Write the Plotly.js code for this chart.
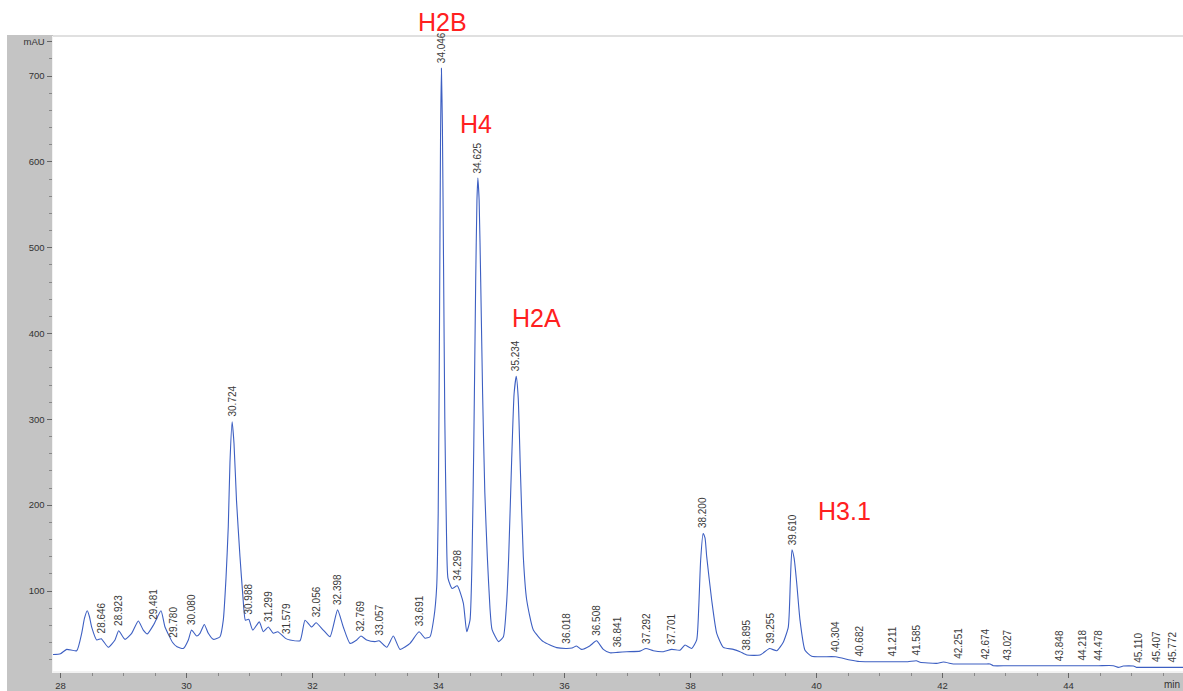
<!DOCTYPE html>
<html>
<head>
<meta charset="utf-8">
<script src="https://cdn.plot.ly/plotly-3.0.1.min.js"></script>
<style>
  html, body { margin: 0; padding: 0; background: #ffffff; }
  #chart { width: 1183px; height: 691px; }
</style>
</head>
<body>
<div id="chart"></div>
<script>
// Chromatogram trace: retention time (min) and absorbance (mAU)
const retentionTime = [
  27.88, 28.00, 28.098, 28.257, 28.337, 28.38, 28.425, 28.46, 28.495, 28.575,
  28.646, 28.759, 28.865, 28.923, 29.024, 29.130, 29.235, 29.314, 29.378, 29.481,
  29.595, 29.659, 29.780, 29.85, 29.949, 30.029, 30.080, 30.162, 30.214, 30.283,
  30.346, 30.425, 30.532, 30.584, 30.627, 30.663, 30.690, 30.724, 30.754, 30.794,
  30.849, 30.897, 30.935, 30.988, 31.051, 31.156, 31.219, 31.299, 31.378, 31.448,
  31.579, 31.643, 31.802, 31.881, 31.987, 32.056, 32.171, 32.278, 32.398, 32.489,
  32.595, 32.702, 32.769, 32.860, 32.992, 33.057, 33.178, 33.283, 33.389, 33.548,
  33.691, 33.786, 33.865, 33.929, 33.971, 33.995, 34.015, 34.032, 34.046, 34.062,
  34.08, 34.10, 34.125, 34.15, 34.215, 34.298, 34.394, 34.448, 34.500, 34.53,
  34.56, 34.59, 34.61, 34.625, 34.645, 34.67, 34.70, 34.735, 34.775, 34.817,
  34.85, 34.955, 35.03, 35.08, 35.114, 35.16, 35.20, 35.234, 35.265, 35.30,
  35.346, 35.40, 35.505, 35.664, 35.876, 36.018, 36.12, 36.19, 36.27, 36.40,
  36.508, 36.616, 36.722, 36.841, 36.987, 37.198, 37.292, 37.410, 37.568, 37.701,
  37.833, 37.913, 38.019, 38.098, 38.13, 38.16, 38.200, 38.23, 38.257, 38.336,
  38.416, 38.521, 38.679, 38.786, 38.895, 39.103, 39.255, 39.368, 39.47, 39.552,
  39.585, 39.610, 39.645, 39.686, 39.738, 39.817, 39.924, 40.304, 40.532, 40.682,
  41.211, 41.45, 41.585, 41.643, 41.908, 42.013, 42.171, 42.251, 42.674, 42.754,
  42.806, 43.027, 43.848, 44.218, 44.478, 44.711, 44.79, 44.87, 45.03, 45.08,
  45.110, 45.407, 45.772, 45.82
];
const absorbance = [
  26, 27, 32, 30.4, 51, 68, 77, 70, 58, 43,
  44.4, 34.4, 43, 53.7, 43.7, 50.7, 65, 54.5, 50, 61,
  77, 58, 40, 35, 33, 43, 54.5, 47.5, 50.7, 61,
  50.7, 43.7, 46.7, 66, 115, 175, 250, 297, 272, 205,
  140, 92, 66, 67, 54.5, 64, 52.5, 58, 50.7, 52.5,
  44.5, 43, 42, 66, 58, 63, 54.5, 46.7, 78, 58,
  39, 43, 47.5, 43, 41, 42, 34.4, 47.5, 32, 39,
  52.5, 45, 46.7, 70, 105, 190, 400, 625, 709, 640,
  480, 300, 175, 115, 103, 106, 86, 52.5, 66, 130,
  270, 460, 555, 581, 555, 460, 330, 215, 140, 80,
  55, 41, 46.7, 85, 140, 250, 330, 350, 325, 240,
  140, 89.5, 54.5, 41, 34, 33, 33.5, 36, 32, 36,
  42, 32, 28, 28.5, 29.3, 30, 33, 30.4, 29.3, 32,
  31, 37, 33, 43, 80, 135, 167, 162, 140, 89.5,
  50.7, 34.4, 32, 29.3, 25.4, 25.4, 33, 30.4, 40, 58,
  112, 148, 138, 109, 66, 31, 24, 23.4, 19.6, 17.8,
  17.6, 17.6, 18.8, 17, 15.7, 17.2, 15, 15, 15, 15,
  13, 13, 13, 13, 13, 13, 11, 12.6, 12.6, 11,
  11, 11, 11, 11
];

// Integrated peaks, labelled with their retention times
const peakTimes = [
  28.646, 28.923, 29.481, 29.780, 30.080, 30.724, 30.988, 31.299, 31.579, 32.056,
  32.398, 32.769, 33.057, 33.691, 34.046, 34.298, 34.625, 35.234, 36.018, 36.508,
  36.841, 37.292, 37.701, 38.200, 38.895, 39.255, 39.610, 40.304, 40.682, 41.211,
  41.585, 42.251, 42.674, 43.027, 43.848, 44.218, 44.478, 45.110, 45.407, 45.772
];

// Histone fractions
const fractionNames = ['H2B', 'H4', 'H2A', 'H3.1'];
const fractionPos = [[0.3451, 1.0213], [0.3739, 0.8614], [0.4283, 0.5559], [0.700, 0.252]];

// Axis ticks
const xTickVals = [28, 30, 32, 34, 36, 38, 40, 42, 44];
const yTickVals = [100, 200, 300, 400, 500, 600, 700, 740];
const yTickText = ['100', '200', '300', '400', '500', '600', '700', 'mAU'];

const BAND = '#c4c4c4';
const LABEL_FONT = 'Liberation Sans, Arial, sans-serif';
const X_MAX = 45.817;

const trace = {
  x: retentionTime,
  y: absorbance,
  type: 'scatter',
  mode: 'lines',
  line: { color: '#3d5fc2', width: 1.1, shape: 'spline', smoothing: 0.5 },
  hoverinfo: 'x+y'
};

const annotations = [];
peakTimes.forEach(t => {
  const i = retentionTime.indexOf(t);
  // a label too close to the right border is set to end at its peak
  const nearEdge = t > X_MAX - 0.1;
  annotations.push({
    x: t, y: absorbance[i], xref: 'x', yref: 'y',
    text: t.toFixed(3), textangle: -90, showarrow: false,
    xanchor: nearEdge ? 'right' : 'center', yanchor: 'bottom', yshift: 3,
    font: { family: LABEL_FONT, size: 10, color: '#3a3a3a' }
  });
});
fractionNames.forEach((name, k) => {
  annotations.push({
    x: fractionPos[k][0], y: fractionPos[k][1], xref: 'paper', yref: 'paper',
    text: name, showarrow: false, xanchor: 'center', yanchor: 'middle',
    font: { family: LABEL_FONT, size: 25, color: '#ff2020' }
  });
});
// time unit on the right end of the x axis
annotations.push({
  x: 1, y: -0.022, xref: 'paper', yref: 'paper', text: 'min',
  showarrow: false, xanchor: 'right', yanchor: 'middle', xshift: -1,
  font: { family: LABEL_FONT, size: 10, color: '#333' }
});

const shapes = [
  // grey frame of the axes
  { type: 'rect', xref: 'paper', yref: 'paper', x0: -0.0407, x1: 0, y0: -0.0315, y1: 1.0016,
    fillcolor: BAND, line: { width: 0 }, layer: 'below' },
  { type: 'rect', xref: 'paper', yref: 'paper', x0: -0.0407, x1: 1, y0: -0.0315, y1: 0,
    fillcolor: BAND, line: { width: 0 }, layer: 'below' },
  // top edge of the plotting area
  { type: 'line', xref: 'paper', yref: 'paper', x0: 0, x1: 1, y0: 1, y1: 1,
    line: { color: '#d6d6d6', width: 1.5 } }
];

const layout = {
  width: 1183, height: 691,
  margin: { l: 53, r: 0, t: 36, b: 20, pad: 0 },
  paper_bgcolor: '#ffffff',
  plot_bgcolor: '#ffffff',
  showlegend: false,
  font: { family: LABEL_FONT, size: 9.5, color: '#333' },
  xaxis: {
    range: [27.881, X_MAX],
    tickmode: 'array', tickvals: xTickVals,
    ticks: 'outside', ticklen: 5, tickcolor: '#666', tickwidth: 1,
    tickfont: { family: LABEL_FONT, size: 9.5, color: '#333' },
    minor: { tickmode: 'linear', tick0: 28, dtick: 0.5, ticks: 'outside', ticklen: 3, tickcolor: '#888' },
    showline: true, linecolor: '#f2f2f2', linewidth: 1.5,
    showgrid: false, zeroline: false, fixedrange: true
  },
  yaxis: {
    range: [6.8, 746.6],
    tickmode: 'array', tickvals: yTickVals, ticktext: yTickText,
    ticks: 'outside', ticklen: 5, tickcolor: '#666', tickwidth: 1,
    tickfont: { family: LABEL_FONT, size: 9.5, color: '#333' },
    minor: { tickmode: 'linear', tick0: 0, dtick: 20, ticks: 'outside', ticklen: 3, tickcolor: '#888' },
    showline: true, linecolor: '#f2f2f2', linewidth: 1.5,
    showgrid: false, zeroline: false, fixedrange: true
  },
  shapes: shapes,
  annotations: annotations
};

Plotly.newPlot('chart', [trace], layout, { displayModeBar: false, staticPlot: true });
</script>
</body>
</html>
